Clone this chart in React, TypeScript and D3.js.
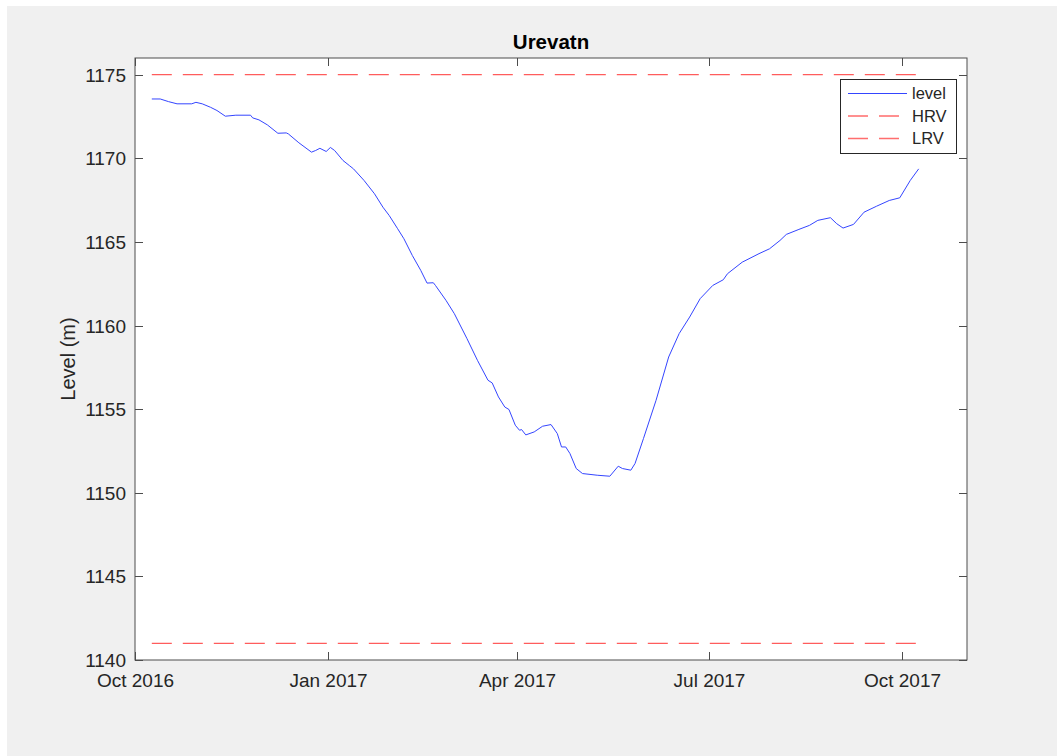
import React from "react";
import * as d3 from "d3";

const dates: string[] = [
  "2016-10-09","2016-10-13","2016-10-17","2016-10-21","2016-10-28","2016-10-30","2016-11-02","2016-11-06",
  "2016-11-09","2016-11-13","2016-11-18","2016-11-25","2016-11-26","2016-11-29","2016-12-03","2016-12-08",
  "2016-12-12","2016-12-13","2016-12-18","2016-12-24","2016-12-26","2016-12-28","2016-12-31","2017-01-02",
  "2017-01-04","2017-01-08","2017-01-11","2017-01-13","2017-01-18","2017-01-23","2017-01-27","2017-01-30",
  "2017-02-03","2017-02-06","2017-02-10","2017-02-14","2017-02-17","2017-02-20","2017-02-21","2017-02-26",
  "2017-03-02","2017-03-08","2017-03-13","2017-03-18","2017-03-20","2017-03-23","2017-03-26","2017-03-28",
  "2017-03-31","2017-04-02","2017-04-03","2017-04-05","2017-04-09","2017-04-13","2017-04-17","2017-04-20",
  "2017-04-22","2017-04-24","2017-04-26","2017-04-29","2017-05-02","2017-05-09","2017-05-15","2017-05-19",
  "2017-05-21","2017-05-25","2017-05-27","2017-05-31","2017-06-06","2017-06-12","2017-06-17","2017-06-22",
  "2017-06-27","2017-07-03","2017-07-08","2017-07-10","2017-07-17","2017-07-25","2017-07-30","2017-08-04",
  "2017-08-07","2017-08-13","2017-08-18","2017-08-22","2017-08-28","2017-08-31","2017-09-03","2017-09-08",
  "2017-09-13","2017-09-19","2017-09-25","2017-09-30","2017-10-05","2017-10-09",
];

const levels: number[] = [
  1173.55,1173.55,1173.39,1173.26,1173.26,1173.35,1173.26,1173.05,
  1172.86,1172.52,1172.58,1172.58,1172.42,1172.30,1172.00,1171.50,
  1171.52,1171.46,1170.93,1170.37,1170.47,1170.60,1170.41,1170.65,
  1170.47,1169.87,1169.57,1169.37,1168.68,1167.88,1167.08,1166.58,
  1165.79,1165.19,1164.19,1163.30,1162.54,1162.56,1162.40,1161.51,
  1160.71,1159.22,1157.92,1156.73,1156.57,1155.73,1155.13,1154.98,
  1154.04,1153.74,1153.78,1153.46,1153.64,1153.98,1154.08,1153.54,
  1152.74,1152.74,1152.35,1151.45,1151.15,1151.05,1150.99,1151.59,
  1151.45,1151.35,1151.75,1153.24,1155.53,1158.12,1159.52,1160.51,
  1161.61,1162.40,1162.74,1163.10,1163.79,1164.30,1164.59,1165.09,
  1165.45,1165.75,1165.99,1166.29,1166.45,1166.09,1165.83,1166.05,
  1166.78,1167.14,1167.48,1167.64,1168.68,1169.37,
];

const HRV = 1175;
const LRV = 1141;

const xTickDates: string[] = ["2016-10-01", "2017-01-01", "2017-04-01", "2017-07-01", "2017-10-01"];
const xTickLabels: string[] = ["Oct 2016", "Jan 2017", "Apr 2017", "Jul 2017", "Oct 2017"];
const yTicks: number[] = [1140, 1145, 1150, 1155, 1160, 1165, 1170, 1175];
const xDomain: string[] = ["2016-10-01", "2017-11-01"];
const yDomain: number[] = [1140, 1176];

const title = "Urevatn";
const yLabel = "Level (m)";
const legendItems: string[] = ["level", "HRV", "LRV"];

const parse = d3.timeParse("%Y-%m-%d");

export default function App() {
  const W = 1057, H = 756;
  const left = 135, right = 967, top = 58, bottom = 660;
  const x = d3.scaleTime().domain(xDomain.map((d) => parse(d) as Date)).range([left, right]);
  const y = d3.scaleLinear().domain(yDomain).range([bottom, top]);

  const pts = dates.map((d, i) => ({ date: parse(d) as Date, v: levels[i] }));
  const line = d3.line<{ date: Date; v: number }>().x((d) => x(d.date)).y((d) => y(d.v));
  const x0 = x(pts[0].date);
  const x1 = x(pts[pts.length - 1].date);

  const axisColor = "#4d4d4d";
  const textColor = "#262626";
  const font = "'Liberation Sans', Arial, Helvetica, sans-serif";
  const tick = 8;

  const lgL = 840.5, lgT = 79.5, lgW = 116, lgH = 74;
  const rowY = [93.5, 116, 138.5];

  return (
    <svg width={W} height={H} style={{ position: "absolute", left: 0, top: 0 }} fontFamily={font}>
      <rect x={0} y={0} width={W} height={H} fill="#ffffff" />
      <rect x={7} y={6} width={W - 7} height={H - 6} fill="#f0f0f0" />
      <rect x={left} y={top} width={right - left} height={bottom - top} fill="#ffffff" />

      {/* reference lines */}
      <line x1={x0} x2={x1} y1={y(HRV)} y2={y(HRV)} stroke="#ff5c5c" strokeWidth={1.3} strokeDasharray="20,11" />
      <line x1={x0} x2={x1} y1={y(LRV)} y2={y(LRV)} stroke="#ff5c5c" strokeWidth={1.3} strokeDasharray="20,11" />

      {/* level */}
      <path d={line(pts) || ""} fill="none" stroke="#3445ff" strokeWidth={1} strokeLinejoin="round" />

      {/* axes box */}
      <rect x={left} y={top} width={right - left} height={bottom - top} fill="none" stroke={axisColor} strokeWidth={1} />

      {/* x ticks */}
      {xTickDates.map((d, i) => {
        const xx = Math.round(x(parse(d) as Date)) + 0.5;
        return (
          <g key={d}>
            <line x1={xx} x2={xx} y1={bottom} y2={bottom - tick} stroke={axisColor} />
            <line x1={xx} x2={xx} y1={top} y2={top + tick} stroke={axisColor} />
            <text x={xx} y={687} textAnchor="middle" fontSize={19} fill={textColor}>
              {xTickLabels[i]}
            </text>
          </g>
        );
      })}

      {/* y ticks */}
      {yTicks.map((t) => {
        const yy = Math.round(y(t)) + 0.5;
        return (
          <g key={t}>
            <line x1={left} x2={left + tick} y1={yy} y2={yy} stroke={axisColor} />
            <line x1={right} x2={right - tick} y1={yy} y2={yy} stroke={axisColor} />
            <text x={126} y={yy} dy="0.35em" textAnchor="end" fontSize={19} fill={textColor}>
              {t}
            </text>
          </g>
        );
      })}

      {/* title */}
      <text x={551} y={49} textAnchor="middle" fontSize={20.5} fontWeight="bold" fill="#000">
        {title}
      </text>

      {/* y label */}
      <text transform={`translate(75, ${(top + bottom) / 2}) rotate(-90)`} textAnchor="middle" fontSize={20} fill={textColor}>
        {yLabel}
      </text>

      {/* legend */}
      <rect x={lgL} y={lgT} width={lgW} height={lgH} fill="#ffffff" stroke="#262626" strokeWidth={1} />
      <line x1={848} x2={907} y1={rowY[0]} y2={rowY[0]} stroke="#3445ff" strokeWidth={1} />
      <line x1={848} x2={907} y1={rowY[1]} y2={rowY[1]} stroke="#ff2020" strokeWidth={1} strokeDasharray="20,11" />
      <line x1={848} x2={907} y1={rowY[2]} y2={rowY[2]} stroke="#ff6e6e" strokeWidth={1.5} strokeDasharray="20,11" />
      {legendItems.map((s, i) => (
        <text key={s} x={912} y={rowY[i]} dy="0.35em" fontSize={16.5} fill={textColor}>
          {s}
        </text>
      ))}
    </svg>
  );
}
